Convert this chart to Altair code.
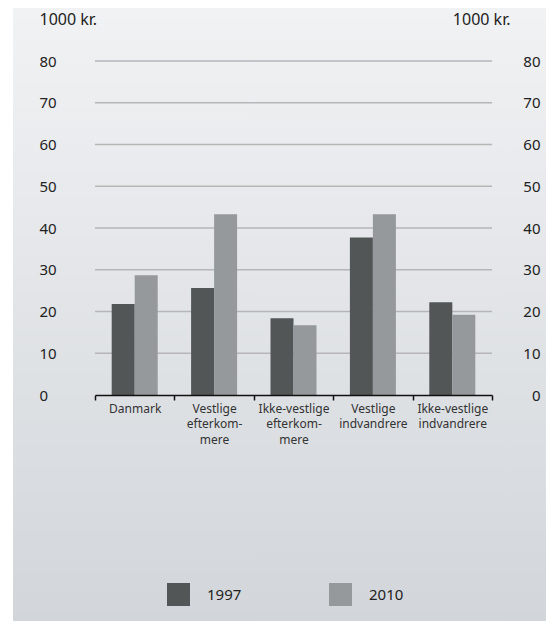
import altair as alt
import pandas as pd

categories = ["Danmark", "Vestlige\nefterkom-\nmere", "Ikke-vestlige\nefterkom-\nmere",
              "Vestlige\nindvandrere", "Ikke-vestlige\nindvandrere"]
years = ["1997", "2010"]
values_1997 = [21.8, 25.6, 18.4, 37.7, 22.2]
values_2010 = [28.7, 43.3, 16.7, 43.3, 19.2]
grid_values = [10, 20, 30, 40, 50, 60, 70, 80]
y_ticks = [0, 10, 20, 30, 40, 50, 60, 70, 80]
colors = ["#525657", "#95999b"]

rows = []
for c, a, b in zip(categories, values_1997, values_2010):
    rows.append({"cat": c, "year": "1997", "value": a})
    rows.append({"cat": c, "year": "2010", "value": b})
df = pd.DataFrame(rows)
grid_df = pd.DataFrame({"v": grid_values})

FONT = "Noto Sans"
W, H = 397, 334
ysc = alt.Scale(domain=[0, 80], nice=False)

bg = alt.Chart(pd.DataFrame({"a": [0]})).mark_rect(
    color=alt.Gradient(gradient="linear",
                       stops=[alt.GradientStop(color="#f1f2f4", offset=0),
                              alt.GradientStop(color="#d2d6da", offset=1)],
                       x1=0, x2=0, y1=0, y2=1)
).encode(x=alt.value(-82), x2=alt.value(451), y=alt.value(-53), y2=alt.value(560))

grid = alt.Chart(grid_df).mark_rule(color="#b4b6b8", strokeWidth=1.5).encode(
    y=alt.Y("v:Q", scale=ysc,
            axis=alt.Axis(orient="right", values=y_ticks, ticks=False, domain=False, grid=False,
                          labelAlign="right", labelPadding=48, labelFontSize=15,
                          labelColor="#222222", labelFont=FONT, zindex=1,
                          title="1000 kr.", titleAngle=0, titleAlign="right",
                          titleBaseline="middle", titleX=18, titleY=-42,
                          titleFontSize=16, titleFontWeight="normal", titleFont=FONT,
                          titleColor="#222222"))
)

bars = alt.Chart(df).mark_bar().encode(
    x=alt.X("cat:N", sort=categories, scale=alt.Scale(paddingInner=0, paddingOuter=0),
            axis=alt.Axis(title=None, labelAngle=0, labelExpr="split(datum.label, '\\n')",
                          labelFontSize=12, labelFont=FONT, labelColor="#333333",
                          labelLineHeight=15.5, labelPadding=3, domainColor="#111111",
                          domainWidth=1.5, tickColor="#111111", tickWidth=1.5, tickSize=5,
                          tickBand="extent", grid=False, zindex=1)),
    xOffset=alt.XOffset("year:N", sort=years, scale=alt.Scale(paddingInner=0, paddingOuter=0.726)),
    y=alt.Y("value:Q", scale=ysc,
            axis=alt.Axis(orient="left", values=y_ticks, ticks=False, domain=False, grid=False,
                          labelAlign="left", labelPadding=56, labelFontSize=15,
                          labelColor="#222222", labelFont=FONT, zindex=1,
                          title="1000 kr.", titleAngle=0, titleAlign="left",
                          titleBaseline="middle", titleX=-56, titleY=-42,
                          titleFontSize=16, titleFontWeight="normal", titleFont=FONT,
                          titleColor="#222222")),
    color=alt.Color("year:N", sort=years, scale=alt.Scale(domain=years, range=colors),
                    legend=alt.Legend(title=None, orient="none", legendX=72, legendY=522,
                                      direction="horizontal", symbolType="square",
                                      symbolSize=529, symbolStrokeWidth=0,
                                      labelFontSize=15, labelFont=FONT, labelColor="#222222",
                                      labelOffset=17, columnPadding=87)),
)

chart = alt.layer(bg, grid, bars).resolve_axis(y="independent").properties(
    width=W, height=H,
    autosize=alt.AutoSizeParams(type="none"),
    padding={"left": 87, "top": 53, "right": 54, "bottom": 226},
    background="white",
).configure_view(stroke=None)

chart.save("out.html", embed_options={"renderer": "svg", "actions": False})
